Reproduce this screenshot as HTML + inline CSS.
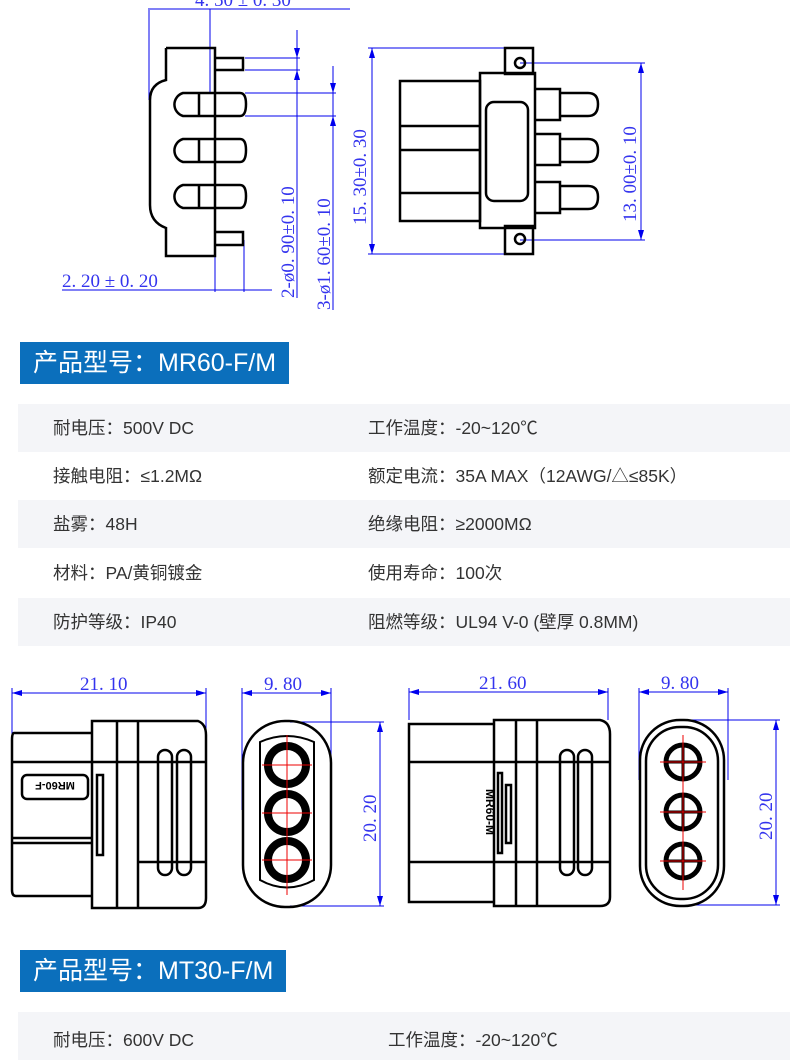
<!DOCTYPE html>
<html><head><meta charset="utf-8"><style>
body{margin:0;background:#fff;width:790px;height:1034px;overflow:hidden;position:relative;font-family:"Liberation Sans","Noto Sans CJK SC",sans-serif}
.h{position:absolute;background:#0b6fbc;color:#fff;font-size:25px;line-height:42px;padding-left:13px;box-sizing:border-box;white-space:nowrap}
.row{position:absolute;left:18px;width:772px;height:48px;font-size:17.5px;color:#333;line-height:48px}
.row.g{background:#f4f5f8}
.row span{position:absolute;white-space:nowrap}
svg{position:absolute;left:0;top:0}
.d{font-family:"Liberation Serif",serif;fill:#3434ee;font-size:19px}
</style></head><body>
<svg width="790" height="1034" viewBox="0 0 790 1034">
<g stroke="#0000ee" stroke-width="1" fill="none">
<line x1="150" y1="9" x2="350" y2="9"/><line x1="149" y1="8" x2="149" y2="100"/><line x1="210" y1="9" x2="210" y2="92"/>
<line x1="297" y1="30" x2="297" y2="298"/><line x1="245" y1="58" x2="300" y2="58"/><line x1="245" y1="70" x2="300" y2="70"/>
<line x1="333" y1="66" x2="333" y2="310"/><line x1="245" y1="93" x2="336" y2="93"/><line x1="245" y1="116" x2="336" y2="116"/>
<line x1="62" y1="290" x2="272" y2="290"/><line x1="215" y1="256" x2="215" y2="292"/><line x1="244" y1="240" x2="244" y2="292"/>
<line x1="372" y1="48" x2="372" y2="254"/><line x1="368" y1="48" x2="510" y2="48"/><line x1="368" y1="254" x2="510" y2="254"/>
<line x1="641" y1="63" x2="641" y2="240"/><line x1="520" y1="63" x2="645" y2="63"/><line x1="520" y1="240" x2="645" y2="240"/>
<line x1="12" y1="693" x2="206" y2="693"/><line x1="12" y1="688" x2="12" y2="735"/><line x1="206" y1="688" x2="206" y2="810"/>
<line x1="242" y1="693" x2="331" y2="693"/><line x1="242" y1="688" x2="242" y2="810"/><line x1="331" y1="688" x2="331" y2="810"/>
<line x1="380" y1="722" x2="380" y2="906"/><line x1="290" y1="722" x2="384" y2="722"/><line x1="290" y1="906" x2="384" y2="906"/>
<line x1="409" y1="692" x2="608" y2="692"/><line x1="409" y1="688" x2="409" y2="720"/><line x1="608" y1="688" x2="608" y2="720"/>
<line x1="639" y1="692" x2="728" y2="692"/><line x1="639" y1="688" x2="639" y2="780"/><line x1="728" y1="688" x2="728" y2="780"/>
<line x1="776" y1="720" x2="776" y2="905"/><line x1="690" y1="720" x2="780" y2="720"/><line x1="690" y1="905" x2="780" y2="905"/>
</g>
<g fill="#0000ee">
<path d="M372 48l-3 10h6zM372 254l-3-10h6zM641 63l-3 10h6zM641 240l-3-10h6zM380 722l-3 10h6zM380 906l-3-10h6zM776 720l-3 10h6zM776 905l-3-10h6zM12 693l10-3v6zM206 693l-10-3v6zM242 693l10-3v6zM331 693l-10-3v6zM409 692l10-3v6zM608 692l-10-3v6zM639 692l10-3v6zM728 692l-10-3v6zM297 58l-3-10h6zM297 70l-3 10h6zM333 93l-3-10h6zM333 116l-3 10h6z"/>
</g>
<text class="d" x="195" y="6">4. 50 ± 0. 30</text>
<text class="d" x="62" y="287">2. 20 ± 0. 20</text>
<text class="d" transform="translate(294,298) rotate(-90)">2-ø0. 90±0. 10</text>
<text class="d" transform="translate(330,310) rotate(-90)">3-ø1. 60±0. 10</text>
<text class="d" transform="translate(366,225) rotate(-90)">15. 30±0. 30</text>
<text class="d" transform="translate(636,222) rotate(-90)">13. 00±0. 10</text>
<text class="d" x="80" y="690">21. 10</text>
<text class="d" x="264" y="690">9. 80</text>
<text class="d" x="479" y="689">21. 60</text>
<text class="d" x="661" y="689">9. 80</text>
<text class="d" transform="translate(376,842) rotate(-90)">20. 20</text>
<text class="d" transform="translate(772,840) rotate(-90)">20. 20</text>
<g stroke="#000" stroke-width="2.5" fill="none">
<path d="M166 48H215V80M215 225V256H166V228Q150 222 150 205V100Q150 84 166 80V48"/>
<path d="M215 58H243V70H215M215 232H243V245H215"/>
<path d="M183 93H240Q246 93 246 104Q246 116 240 116H183A12 12 0 0 1 183 93ZM183 139H240Q246 139 246 150Q246 162 240 162H183A12 12 0 0 1 183 139ZM183 185H240Q246 185 246 196Q246 208 240 208H183A12 12 0 0 1 183 185Z"/>
<path d="M199 93V116M215 80V225M199 139V162M199 185V208"/>
<rect x="400" y="81" width="80" height="140"/><rect x="480" y="73" width="55" height="155"/>
<rect x="505" y="48" width="28" height="26"/><rect x="505" y="226" width="28" height="28"/>
<rect x="486" y="102" width="42" height="99" rx="8"/>
<path d="M400 126H480M400 150H480M400 193H480"/>
<path d="M535 89H560V120H535M535 134H560V165H535M535 182H560V213H535"/>
<path d="M560 93H588Q598 93 598 104Q598 116 588 116H560M560 139H588Q598 139 598 150Q598 162 588 162H560M560 186H588Q598 186 598 197Q598 209 588 209H560"/>
<circle cx="520" cy="63" r="5"/><circle cx="520" cy="239" r="5"/>
<path d="M92 721H198Q206 724 206 735V898Q206 908 198 908H92Z"/>
<path d="M92 733H14Q12 733 12 740V890Q12 896 16 896H92"/>
<path d="M117 721V908M138 721V908M12 762H206M12 838H92M12 843H92M138 862H206"/>
<rect x="22" y="775" width="66" height="24" rx="5"/>
<rect x="97" y="775" width="6" height="80"/>
<rect x="158" y="750" width="14" height="125" rx="7"/><rect x="177" y="750" width="14" height="125" rx="7"/>
<rect x="243" y="721" width="88" height="186" rx="42"/>
<path d="M494 720H600Q610 722 610 734V897Q610 906 600 906H494Z"/>
<path d="M494 724H409V902H494"/>
<path d="M516 720V906M537 720V906M409 762H610M409 862H610"/>
<rect x="498" y="773" width="4" height="80"/><rect x="506" y="785" width="5" height="58"/>
<rect x="560" y="750" width="14" height="125" rx="7"/><rect x="578" y="750" width="14" height="125" rx="7"/>
<rect x="640" y="720" width="84" height="186" rx="40"/>
<rect x="646" y="727" width="72" height="172" rx="34"/>
</g>
<g stroke="#000" stroke-width="8" fill="none">
<circle cx="287" cy="765" r="19"/><circle cx="287" cy="813" r="19"/><circle cx="287" cy="860" r="19"/>
</g>
<path d="M260 742Q287 730 314 742V880Q287 895 260 880Z" stroke="#000" stroke-width="2" fill="none"/>
<g stroke="#000" stroke-width="5" fill="none">
<circle cx="683" cy="762" r="17"/><circle cx="683" cy="812" r="17"/><circle cx="683" cy="861" r="17"/>
</g>
<g stroke="#000" stroke-width="3">
<path d="M683 745V779M666 762H700M683 795V829M666 812H700M683 844V878M666 861H700"/>
</g>
<g stroke="#e00" stroke-width="1">
<path d="M287 735V895M262 765H312M262 813H312M262 860H312M683 735V890M660 762H706M660 812H706M660 861H706"/>
</g>
<text x="55" y="792" font-size="11" font-weight="bold" transform="rotate(180 55 787)" text-anchor="middle">MR60-F</text>
<text x="486" y="812" font-size="12" font-weight="bold" transform="rotate(90 486 812)" text-anchor="middle">MR60-M</text>
</svg>
<div class="h" style="left:20px;top:342px;width:269px;height:42px">产品型号：MR60-F/M</div>
<div class="row g" style="top:404px"><span style="left:35px">耐电压：500V DC</span><span style="left:350px">工作温度：-20~120℃</span></div>
<div class="row" style="top:452px"><span style="left:35px">接触电阻：≤1.2MΩ</span><span style="left:350px">额定电流：35A MAX（12AWG/△≤85K）</span></div>
<div class="row g" style="top:500px"><span style="left:35px">盐雾：48H</span><span style="left:350px">绝缘电阻：≥2000MΩ</span></div>
<div class="row" style="top:549px"><span style="left:35px">材料：PA/黄铜镀金</span><span style="left:350px">使用寿命：100次</span></div>
<div class="row g" style="top:598px"><span style="left:35px">防护等级：IP40</span><span style="left:350px">阻燃等级：UL94 V-0 (壁厚 0.8MM)</span></div>
<div class="h" style="left:20px;top:950px;width:266px;height:42px">产品型号：MT30-F/M</div>
<div class="row g" style="top:1012px"><span style="left:35px;top:4px">耐电压：600V DC</span><span style="left:370px;top:4px">工作温度：-20~120℃</span></div>
</body></html>
